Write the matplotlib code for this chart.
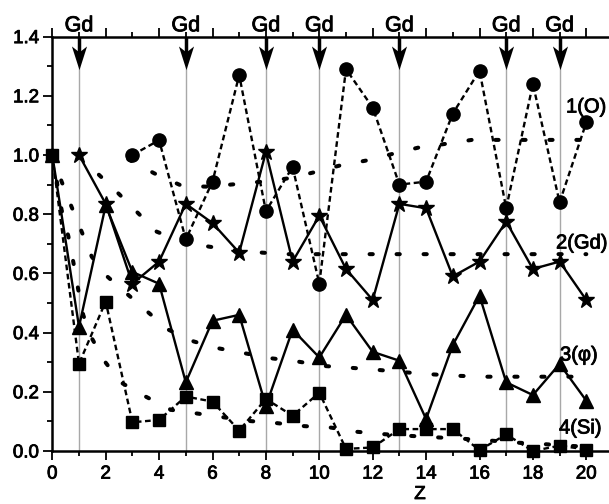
import matplotlib
matplotlib.use("Agg")
import matplotlib.pyplot as plt
from matplotlib.ticker import MultipleLocator
from matplotlib.path import Path
import matplotlib.patheffects as pe

plt.rcParams['font.family'] = ['Liberation Sans', 'DejaVu Sans']

# ---- data ----
o_x = list(range(3, 21))
o_y = [1.00, 1.05, 0.715, 0.91, 1.27, 0.81, 0.96, 0.565, 1.29, 1.16, 0.90, 0.91,
       1.14, 1.285, 0.82, 1.24, 0.84, 1.11]

gd_x = list(range(1, 21))
gd_y = [1.00, 0.835, 0.565, 0.64, 0.835, 0.77, 0.67, 1.01, 0.64, 0.795, 0.615, 0.51,
        0.835, 0.82, 0.59, 0.64, 0.775, 0.615, 0.64, 0.51]

phi_x = list(range(0, 21))
phi_y = [1.0, 0.42, 0.83, 0.605, 0.565, 0.232, 0.44, 0.46, 0.152, 0.41, 0.316, 0.46,
         0.335, 0.305, 0.108, 0.358, 0.525, 0.232, 0.189, 0.294, 0.17]

si_x = list(range(0, 21))
si_y = [1.0, 0.295, 0.505, 0.097, 0.105, 0.184, 0.167, 0.069, 0.176, 0.119, 0.197, 0.007,
        0.012, 0.074, 0.074, 0.074, 0.003, 0.056, 0.0, 0.018, 0.005]

# fitted (dotted) curves
fit_o_x = [2.85, 3.82, 4.85, 5.8, 6.8, 7.84, 8.84, 9.78, 10.75, 11.74, 12.71,
           13.71, 14.68, 15.71, 16.7, 17.73, 18.73, 19.74, 20.0]
fit_o_y = [0.985, 0.938, 0.896, 0.893, 0.901, 0.91, 0.921, 0.941, 0.964,
           0.981, 1.003, 1.025, 1.037, 1.051, 1.051, 1.051, 1.051, 1.051, 1.051]

fit_gd_x = [1.0, 1.76, 2.5, 3.22, 3.91, 4.9, 5.9, 6.9, 7.88, 8.84, 10, 12, 14, 16, 18, 20]
fit_gd_y = [0.995, 0.932, 0.868, 0.803, 0.741, 0.705, 0.69, 0.678, 0.67, 0.665, 0.665,
            0.665, 0.665, 0.665, 0.665, 0.665]

fit_phi_x = [0, 0.35, 0.73, 1.1, 1.48, 2.04, 2.81, 3.56, 4.32, 5.3, 6.22, 7.22, 8.22, 9.21,
             10.21, 11.2, 12.2, 13.2, 14.21, 15.2, 16.2, 17.2, 18.24, 19.27, 20.0]
fit_phi_y = [1.0, 0.91, 0.823, 0.741, 0.656, 0.591, 0.530, 0.471, 0.411, 0.37, 0.347, 0.330,
             0.313, 0.302, 0.287, 0.281, 0.274, 0.266, 0.259, 0.254, 0.251, 0.251, 0.251,
             0.251, 0.251]

fit_si_x = [0, 0.35, 0.6, 0.79, 0.97, 1.16, 1.48, 1.97, 2.56, 3.43, 4.45, 5.4, 6.4, 7.43,
            8.43, 9.44, 10.44, 11.4, 12.4, 13.42, 14.42, 15.43, 16.43, 17.45, 18.45, 19.45, 20.0]
fit_si_y = [1.0, 0.814, 0.726, 0.637, 0.546, 0.459, 0.381, 0.302, 0.232, 0.187, 0.139, 0.127,
            0.114, 0.101, 0.094, 0.084, 0.079, 0.065, 0.057, 0.051, 0.046, 0.041, 0.035,
            0.028, 0.023, 0.017, 0.015]

gd_positions = [1, 5, 8, 10, 13, 17, 19]
curve_labels = ["1(O)", "2(Gd)", "3(φ)", "4(Si)"]

thick = [pe.withStroke(linewidth=0.6, foreground='black')]

# ---- figure ----
W, H = 609, 504
fig = plt.figure(figsize=(W / 100, H / 100), dpi=100)
x0_px, y0_px, ppx, ppy = 52.3, 451.0, 26.7, 296.0
xmax = 21.5
ax = fig.add_axes([x0_px / W, (H - y0_px) / H, xmax * ppx / W, 1.4 * ppy / H])
ax.set_xlim(0, xmax)
ax.set_ylim(0, 1.4)

# grey vertical lines at Gd positions
for xp in gd_positions:
    ax.axvline(xp, color='#a8a8a8', lw=1.0, zorder=1)

# fitted dotted curves
fit_kw = dict(color='black', lw=2.9, dashes=(0.8, 5.9), dash_capstyle='round', zorder=2)
for fx, fy in [(fit_o_x, fit_o_y), (fit_gd_x, fit_gd_y), (fit_phi_x, fit_phi_y), (fit_si_x, fit_si_y)]:
    ax.plot(fx, fy, **fit_kw)

# data series
ax.plot(o_x, o_y, color='black', lw=1.7, dashes=(2.4, 1.5), marker='o', ms=9.5, zorder=4)
ax.plot(gd_x, gd_y, color='black', lw=1.7, ls='-', marker='*', ms=12, zorder=4)
ax.plot(phi_x, phi_y, color='black', lw=1.7, ls='-', marker='^', ms=10, zorder=4, clip_on=False)
ax.plot(si_x, si_y, color='black', lw=1.7, dashes=(2.4, 1.5), marker='s', ms=8, zorder=4,
        clip_on=False)

# arrows (notched heads) and Gd labels
head = Path([(0, -1.0), (-0.32, 0.0), (0, -0.25), (0.32, 0.0), (0, -1.0)],
            [Path.MOVETO, Path.LINETO, Path.LINETO, Path.LINETO, Path.CLOSEPOLY])
head_back = (451 - 46) / 296.0
for xp in gd_positions:
    ax.plot([xp, xp], [1.4, head_back - 0.03], color='black', lw=2.5, zorder=5,
            solid_capstyle='butt', clip_on=False)
    ax.plot([xp], [head_back], marker=head, ms=34, color='black', mew=0, zorder=5,
            clip_on=False)
    ax.text(xp, 1.418, 'Gd', ha='center', va='baseline', fontsize=15.5, clip_on=False,
            path_effects=thick)

# curve labels
lab_pos = [(566, 107), (556, 243), (560, 355), (559, 428)]
for lab, (px, py) in zip(curve_labels, lab_pos):
    fig.text(px / W, (H - py) / H, lab, ha='left', va='center', fontsize=14.5,
             path_effects=thick)

# Z label (at the bottom edge)
fig.text(420 / W, (H - 486) / H, 'Z', ha='center', va='top', fontsize=13.5,
         path_effects=thick)

# axes styling
for s in ['left', 'bottom', 'top']:
    ax.spines[s].set_linewidth(1.8)
ax.spines['right'].set_visible(False)
ax.xaxis.set_minor_locator(MultipleLocator(1))
ax.yaxis.set_minor_locator(MultipleLocator(0.1))
ax.set_xticks([0, 2, 4, 6, 8, 10, 12, 14, 16, 18, 20])
ax.set_xticklabels([str(v) for v in [0, 2, 4, 6, 8, 10, 12, 14, 16, 18, 20]])
ax.set_yticks([0.0, 0.2, 0.4, 0.6, 0.8, 1.0, 1.2, 1.4])
ax.set_yticklabels(['0.0', '0.2', '0.4', '0.6', '0.8', '1.0', '1.2', '1.4'])
ax.tick_params(axis='both', which='major', direction='out', length=6.5, width=1.3)
ax.tick_params(axis='both', which='minor', direction='out', length=3.6, width=1.3)
ax.tick_params(axis='x', which='both', top=True, labeltop=False, labelsize=13.5, pad=4)
ax.tick_params(axis='y', which='both', right=False, labelsize=13.5, pad=3)
for lbl in ax.get_xticklabels() + ax.get_yticklabels():
    lbl.set_path_effects(thick)
ax.patch.set_visible(False)

fig.savefig('out.png', dpi=100)
